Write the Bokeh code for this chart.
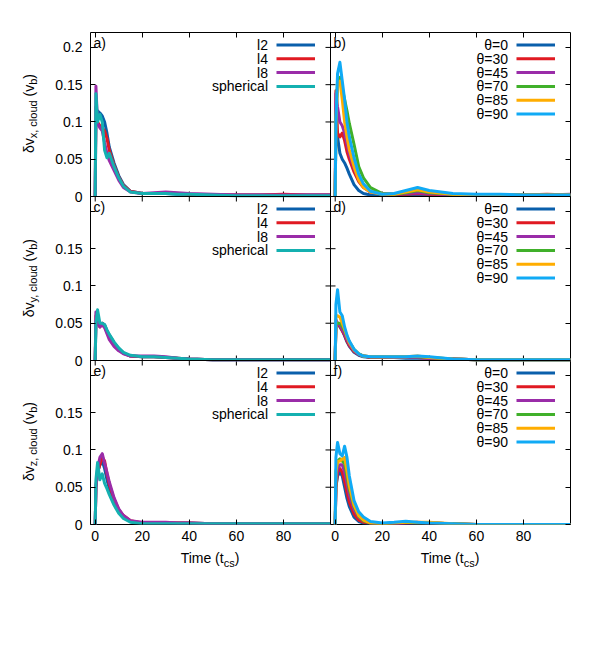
import math
from bokeh.plotting import figure
from bokeh.models import FixedTicker, LinearAxis, Label, Range1d, Span, Div, Spacer
from bokeh.layouts import row, column
from bokeh.embed import file_html
from bokeh.resources import INLINE

# ---------------- data ----------------
time = [0, 0.3, 1, 2, 3, 4, 5, 6, 8, 10, 12, 15, 20, 25, 30, 35, 40, 50, 60, 70, 80, 90, 100]

l_names = ["l2", "l4", "l8", "spherical"]
theta_names = ["θ=0", "θ=30", "θ=45", "θ=70", "θ=85", "θ=90"]

# delta v_x, cloud  (panel a: resolution series)
vx_l2 = [0, 0.100, 0.115, 0.112, 0.108, 0.100, 0.085, 0.066, 0.045, 0.028, 0.016, 0.007, 0.004, 0.004, 0.004, 0.003, 0.003, 0.002, 0.002, 0.002, 0.002, 0.002, 0.002]
vx_l4 = [0, 0.120, 0.100, 0.095, 0.092, 0.088, 0.078, 0.062, 0.042, 0.026, 0.015, 0.007, 0.004, 0.004, 0.005, 0.004, 0.003, 0.002, 0.002, 0.002, 0.003, 0.002, 0.002]
vx_l8 = [0, 0.148, 0.098, 0.092, 0.088, 0.072, 0.058, 0.048, 0.035, 0.022, 0.012, 0.006, 0.004, 0.005, 0.006, 0.005, 0.004, 0.003, 0.002, 0.002, 0.002, 0.002, 0.002]
vx_sph = [0, 0.138, 0.100, 0.110, 0.100, 0.062, 0.052, 0.058, 0.040, 0.025, 0.014, 0.006, 0.004, 0.004, 0.004, 0.003, 0.003, 0.002, 0.001, 0.001, 0.001, 0.001, 0.001]

# delta v_x, cloud  (panel b: field angle series)
vx_t0 = [0, 0.090, 0.080, 0.058, 0.050, 0.045, 0.038, 0.030, 0.016, 0.008, 0.004, 0.002, 0.002, 0.002, 0.002, 0.002, 0.002, 0.002, 0.002, 0.002, 0.002, 0.002, 0.002]
vx_t30 = [0, 0.142, 0.085, 0.080, 0.085, 0.075, 0.060, 0.050, 0.033, 0.020, 0.012, 0.006, 0.004, 0.003, 0.003, 0.004, 0.003, 0.002, 0.002, 0.002, 0.002, 0.003, 0.002]
vx_t45 = [0, 0.138, 0.120, 0.100, 0.095, 0.085, 0.070, 0.057, 0.038, 0.023, 0.013, 0.006, 0.004, 0.003, 0.004, 0.005, 0.004, 0.002, 0.002, 0.002, 0.002, 0.002, 0.003]
vx_t70 = [0, 0.100, 0.155, 0.160, 0.145, 0.130, 0.115, 0.098, 0.070, 0.040, 0.025, 0.012, 0.004, 0.003, 0.005, 0.008, 0.005, 0.003, 0.002, 0.002, 0.002, 0.002, 0.002]
vx_t85 = [0, 0.100, 0.150, 0.155, 0.130, 0.100, 0.080, 0.063, 0.040, 0.022, 0.012, 0.006, 0.003, 0.003, 0.006, 0.009, 0.006, 0.003, 0.002, 0.002, 0.002, 0.002, 0.002]
vx_t90 = [0, 0.100, 0.165, 0.180, 0.155, 0.130, 0.100, 0.080, 0.052, 0.030, 0.017, 0.007, 0.003, 0.004, 0.008, 0.012, 0.008, 0.004, 0.003, 0.003, 0.002, 0.002, 0.002]

# delta v_y, cloud  (panel c)
vy_l2 = [0, 0.050, 0.055, 0.048, 0.050, 0.048, 0.040, 0.034, 0.024, 0.016, 0.010, 0.006, 0.005, 0.005, 0.004, 0.003, 0.002, 0.001, 0.001, 0.001, 0.001, 0.001, 0.001]
vy_l4 = [0, 0.060, 0.050, 0.045, 0.050, 0.046, 0.038, 0.031, 0.022, 0.015, 0.010, 0.006, 0.005, 0.005, 0.004, 0.003, 0.002, 0.001, 0.001, 0.001, 0.001, 0.001, 0.001]
vy_l8 = [0, 0.065, 0.050, 0.045, 0.048, 0.044, 0.036, 0.028, 0.019, 0.013, 0.009, 0.006, 0.006, 0.006, 0.005, 0.003, 0.002, 0.001, 0.001, 0.001, 0.001, 0.001, 0.001]
vy_sph = [0, 0.050, 0.068, 0.050, 0.050, 0.048, 0.041, 0.035, 0.025, 0.017, 0.011, 0.007, 0.005, 0.005, 0.004, 0.003, 0.002, 0.001, 0.001, 0.001, 0.001, 0.001, 0.001]

# delta v_y, cloud  (panel d)
vy_t0 = [0, 0.050, 0.050, 0.045, 0.040, 0.033, 0.025, 0.019, 0.011, 0.007, 0.005, 0.004, 0.004, 0.004, 0.003, 0.003, 0.003, 0.002, 0.001, 0.001, 0.001, 0.001, 0.001]
vy_t30 = [0, 0.050, 0.050, 0.046, 0.040, 0.034, 0.026, 0.020, 0.012, 0.008, 0.006, 0.004, 0.004, 0.004, 0.004, 0.004, 0.003, 0.002, 0.001, 0.001, 0.001, 0.001, 0.001]
vy_t45 = [0, 0.055, 0.050, 0.047, 0.042, 0.036, 0.028, 0.022, 0.013, 0.008, 0.006, 0.005, 0.005, 0.004, 0.004, 0.004, 0.003, 0.002, 0.001, 0.001, 0.001, 0.001, 0.001]
vy_t70 = [0, 0.050, 0.050, 0.050, 0.046, 0.040, 0.032, 0.025, 0.015, 0.009, 0.006, 0.005, 0.005, 0.005, 0.005, 0.005, 0.004, 0.002, 0.001, 0.001, 0.001, 0.001, 0.001]
vy_t85 = [0, 0.060, 0.060, 0.058, 0.050, 0.042, 0.032, 0.024, 0.014, 0.009, 0.006, 0.005, 0.005, 0.005, 0.005, 0.006, 0.004, 0.002, 0.001, 0.001, 0.001, 0.001, 0.001]
vy_t90 = [0, 0.075, 0.095, 0.065, 0.060, 0.045, 0.034, 0.026, 0.015, 0.009, 0.006, 0.005, 0.005, 0.005, 0.005, 0.006, 0.005, 0.002, 0.001, 0.001, 0.001, 0.001, 0.001]

# delta v_z, cloud  (panel e)
vz_l2 = [0, 0.050, 0.070, 0.080, 0.085, 0.075, 0.060, 0.048, 0.030, 0.018, 0.010, 0.004, 0.002, 0.002, 0.002, 0.002, 0.002, 0.001, 0.001, 0.001, 0.001, 0.001, 0.001]
vz_l4 = [0, 0.050, 0.070, 0.080, 0.090, 0.085, 0.068, 0.054, 0.034, 0.020, 0.012, 0.005, 0.002, 0.002, 0.002, 0.002, 0.002, 0.001, 0.001, 0.001, 0.001, 0.001, 0.001]
vz_l8 = [0, 0.050, 0.075, 0.090, 0.095, 0.082, 0.070, 0.057, 0.036, 0.021, 0.012, 0.005, 0.003, 0.003, 0.003, 0.002, 0.002, 0.001, 0.001, 0.001, 0.001, 0.001, 0.001]
vz_sph = [0, 0.060, 0.083, 0.060, 0.068, 0.055, 0.048, 0.040, 0.026, 0.015, 0.008, 0.003, 0.001, 0.001, 0.001, 0.001, 0.001, 0.001, 0.001, 0.001, 0.001, 0.001, 0.001]

# delta v_z, cloud  (panel f)
vz_t0 = [0, 0.050, 0.065, 0.070, 0.065, 0.050, 0.035, 0.024, 0.010, 0.004, 0.002, 0.001, 0.001, 0.001, 0.001, 0.001, 0.001, 0.000, 0.000, 0.000, 0.000, 0.000, 0.000]
vz_t30 = [0, 0.050, 0.070, 0.075, 0.070, 0.058, 0.043, 0.030, 0.014, 0.006, 0.003, 0.002, 0.001, 0.001, 0.002, 0.002, 0.002, 0.001, 0.000, 0.000, 0.000, 0.000, 0.000]
vz_t45 = [0, 0.055, 0.075, 0.080, 0.080, 0.070, 0.055, 0.040, 0.020, 0.010, 0.005, 0.002, 0.001, 0.001, 0.002, 0.003, 0.002, 0.001, 0.000, 0.000, 0.000, 0.000, 0.000]
vz_t70 = [0, 0.070, 0.085, 0.088, 0.085, 0.082, 0.065, 0.047, 0.024, 0.011, 0.005, 0.002, 0.001, 0.002, 0.003, 0.002, 0.002, 0.001, 0.000, 0.000, 0.000, 0.000, 0.000]
vz_t85 = [0, 0.070, 0.085, 0.085, 0.088, 0.090, 0.072, 0.052, 0.026, 0.012, 0.006, 0.002, 0.001, 0.002, 0.003, 0.003, 0.003, 0.001, 0.000, 0.000, 0.000, 0.000, 0.000]
vz_t90 = [0, 0.090, 0.110, 0.095, 0.092, 0.105, 0.090, 0.065, 0.032, 0.017, 0.010, 0.004, 0.002, 0.003, 0.0045, 0.003, 0.002, 0.001, 0.000, 0.000, 0.000, 0.000, 0.000]

x_ticks = [0, 20, 40, 60, 80]
x_tick_labels = ["0", "20", "40", "60", "80"]
y_ticks = [0, 0.05, 0.1, 0.15, 0.2]
y_tick_labels = ["0", "0.05", "0.1", "0.15", "0.2"]

l_colors = ["#0a5fab", "#e01a22", "#9a2ca8", "#14b0b0"]
theta_colors = ["#0a5fab", "#e01a22", "#9a2ca8", "#40b02a", "#ffad00", "#10aaf5"]

# ---------------- layout constants ----------------
FONT = "Liberation Sans"
X0, X1 = -2, 100          # one panel's time range
Y0, Y1 = 0, 0.22          # one panel's value range
XSPAN, YSPAN = X1 - X0, Y1 - Y0
PW, PH = 240, 164         # one panel, px
NCOL, NROW = 2, 3
DW = 48                   # width of the y-title column
LEFT, RIGHT, TOP, BOTTOM = 42, 18, 32, 26
SX = XSPAN / PW
SY = YSPAN / PH

# one figure holds all six panels; each panel gets its own shifted range
p = figure(width=LEFT + NCOL * PW + RIGHT, height=TOP + NROW * PH + BOTTOM,
           output_backend="svg", toolbar_location=None,
           x_range=Range1d(X0, X0 + NCOL * XSPAN), y_range=Range1d(Y0, Y0 + NROW * YSPAN),
           x_axis_location=None, y_axis_location=None,
           min_border_left=LEFT, min_border_right=RIGHT,
           min_border_top=TOP, min_border_bottom=BOTTOM)
p.xgrid.grid_line_color = None
p.ygrid.grid_line_color = None
p.outline_line_color = "black"
p.outline_line_width = 1
p.background_fill_color = "white"
p.border_fill_color = "white"

xr_names = []
for c in range(NCOL):
    nm = "default" if c == 0 else f"x{c}"
    if c > 0:
        p.extra_x_ranges[nm] = Range1d(X0 - c * XSPAN, X0 + (NCOL - c) * XSPAN)
    xr_names.append(nm)
yr_names = []
for r in range(NROW):
    k = NROW - 1 - r   # panels counted from the bottom
    nm = "default" if k == 0 else f"y{r}"
    if k > 0:
        p.extra_y_ranges[nm] = Range1d(Y0 - k * YSPAN, Y0 + (NROW - k) * YSPAN)
    yr_names.append(nm)

# ticks on the outer frame
all_xt, xt_over = [], {}
for c in range(NCOL):
    for t, lab in zip(x_ticks, x_tick_labels):
        v = round(t + c * XSPAN, 6)
        all_xt.append(v)
        xt_over[v] = lab
all_yt, yt_over = [], {}
for r in range(NROW):
    k = NROW - 1 - r
    for t, lab in zip(y_ticks, y_tick_labels):
        v = round(t + k * YSPAN, 6)
        all_yt.append(v)
        yt_over[v] = lab if (r == 0 or t < 0.2) else ""


def style_axis(ax, show):
    ax.major_tick_in = 5
    ax.major_tick_out = 0
    ax.minor_tick_in = 0
    ax.minor_tick_out = 0
    ax.axis_line_color = None
    ax.major_tick_line_color = "black"
    ax.major_tick_line_width = 1
    if show:
        ax.major_label_text_font = FONT
        ax.major_label_text_font_size = "14px"
        ax.major_label_text_color = "black"
    else:
        ax.major_label_text_font_size = "0px"
        ax.major_label_text_alpha = 0
        ax.major_label_standoff = 0


for side in ("left", "right"):
    ax = LinearAxis(ticker=FixedTicker(ticks=all_yt))
    style_axis(ax, side == "left")
    if side == "left":
        ax.major_label_overrides = yt_over
        ax.major_label_standoff = 8
    p.add_layout(ax, side)
for side in ("below", "above"):
    ax = LinearAxis(ticker=FixedTicker(ticks=all_xt))
    style_axis(ax, side == "below")
    if side == "below":
        ax.major_label_overrides = xt_over
        ax.major_label_standoff = 6
    p.add_layout(ax, side)

# inner panel borders, with ticks pointing into both neighbours
for c in range(1, NCOL):
    p.add_layout(Span(location=X0 + c * XSPAN, dimension="height", line_color="black", line_width=1))
    p.scatter(x=[X0 + c * XSPAN] * len(all_yt), y=all_yt, marker="dash", size=10,
              line_color="black", line_width=1)
for k in range(1, NROW):
    p.add_layout(Span(location=Y0 + k * YSPAN, dimension="width", line_color="black", line_width=1))
    p.scatter(x=all_xt, y=[Y0 + k * YSPAN] * len(all_xt), marker="dash", size=10,
              angle=math.pi / 2, line_color="black", line_width=1)

panels = [
    (0, 0, [vx_l2, vx_l4, vx_l8, vx_sph], l_names, l_colors, "a)"),
    (0, 1, [vx_t0, vx_t30, vx_t45, vx_t70, vx_t85, vx_t90], theta_names, theta_colors, "b)"),
    (1, 0, [vy_l2, vy_l4, vy_l8, vy_sph], l_names, l_colors, "c)"),
    (1, 1, [vy_t0, vy_t30, vy_t45, vy_t70, vy_t85, vy_t90], theta_names, theta_colors, "d)"),
    (2, 0, [vz_l2, vz_l4, vz_l8, vz_sph], l_names, l_colors, "e)"),
    (2, 1, [vz_t0, vz_t30, vz_t45, vz_t70, vz_t85, vz_t90], theta_names, theta_colors, "f)"),
]

for r, c, series, names, colors, tag in panels:
    xn, yn = xr_names[c], yr_names[r]
    for vals, col in zip(series, colors):
        p.line(time, vals, line_width=3, color=col, line_join="round",
               x_range_name=xn, y_range_name=yn)
    # key: gnuplot style, right-aligned text then sample line
    for i, (nm, col) in enumerate(zip(names, colors)):
        dy = 12.5 + 13.8 * i
        p.add_layout(Label(x=X0, y=Y1, x_offset=177.5, y_offset=-dy, text=nm,
                           x_range_name=xn, y_range_name=yn,
                           text_align="right", text_baseline="middle",
                           text_font=FONT, text_font_size="14px", text_color="black"))
        yy = Y1 - dy * SY
        p.segment(x0=[X0 + 186 * SX], y0=[yy], x1=[X0 + 224.5 * SX], y1=[yy],
                  line_width=3, color=col, x_range_name=xn, y_range_name=yn)
    p.add_layout(Label(x=X0, y=Y1, x_offset=3, y_offset=-10, text=tag,
                       x_range_name=xn, y_range_name=yn,
                       text_align="left", text_baseline="middle",
                       text_font=FONT, text_font_size="14px", text_color="black"))

# ---------------- titles as HTML text (sub-scripts) ----------------
SUB = "font-size:11px;vertical-align:sub;"


def ytitle(comp):
    html = (f'<div style="width:{DW}px;height:{PH}px;display:flex;align-items:center;'
            f'justify-content:flex-start;padding-left:19px;box-sizing:border-box;">'
            f'<span style="writing-mode:vertical-rl;transform:rotate(180deg);'
            f'font-family:\'{FONT}\';font-size:14px;white-space:nowrap;color:black;">'
            f'δv<span style="{SUB}">{comp}, cloud</span> (v<span style="{SUB}">b</span>)</span></div>')
    return Div(text=html, width=DW, height=PH, margin=(0, 0, 0, 0))


def xtitle():
    html = (f'<div style="width:{PW}px;height:24px;text-align:center;'
            f'font-family:\'{FONT}\';font-size:14px;line-height:16px;white-space:nowrap;color:black;">'
            f'Time (t<span style="{SUB}">cs</span>)</div>')
    return Div(text=html, width=PW, height=24, margin=(0, 0, 0, 0))


ycol = column(Spacer(width=DW, height=TOP, margin=(0, 0, 0, 0)),
              ytitle("x"), ytitle("y"), ytitle("z"), spacing=0, margin=(0, 0, 0, 0))
top = row(ycol, p, spacing=0, margin=(0, 0, 0, 0))
bottom = row(Spacer(width=DW + LEFT, height=24, margin=(0, 0, 0, 0)), xtitle(), xtitle(),
             spacing=0, margin=(0, 0, 0, 0))
layout = column(top, bottom, spacing=0, margin=(0, 0, 0, 0))

open("out.html", "w").write(file_html(layout, INLINE))
